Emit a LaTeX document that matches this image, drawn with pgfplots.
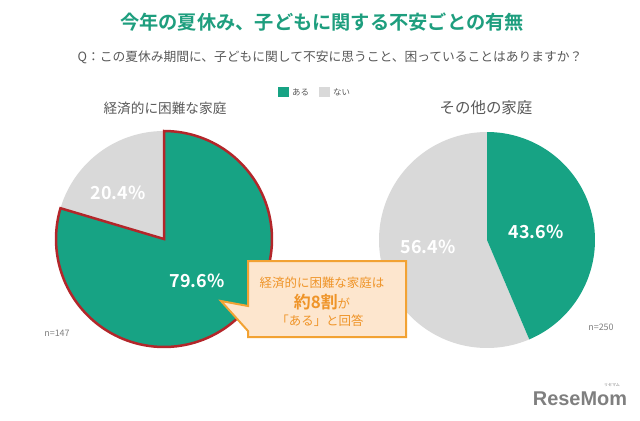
\documentclass[border=0pt]{standalone}
\usepackage{pgfplots}
\pgfplotsset{compat=1.18}
\usepackage{fontspec}
\setmainfont{Noto Sans CJK JP}[BoldFont={Noto Sans CJK JP Bold}]
\newfontfamily\logofont{Liberation Sans}[BoldFont={Liberation Sans Bold}]
\definecolor{pgreen}{HTML}{17A384}
\definecolor{tgreen}{HTML}{1E9E7E}
\definecolor{pgray}{HTML}{D9D9D9}
\definecolor{pred}{HTML}{B3262A}
\definecolor{oborder}{HTML}{F2A233}
\definecolor{ofill}{HTML}{FDE6CE}
\definecolor{otext}{HTML}{EF9428}
\definecolor{txtgray}{HTML}{595959}
\definecolor{lightgray}{HTML}{7F7F7F}
% data (percent)
\def\LYes{79.6}\def\LNo{20.4}
\def\RYes{43.6}\def\RNo{56.4}
\def\LCx{164}\def\LCy{239}\def\RCx{487}\def\RCy{240}\def\Rad{108}
\begin{document}
\begin{tikzpicture}
\begin{axis}[scale only axis, width=640bp, height=421bp,
  xmin=0, xmax=640, ymin=0, ymax=421, y dir=reverse,
  hide axis, clip=false]
% left pie
\addplot[fill=pgray, draw=none, domain=90:{90+3.6*\LNo}, samples=60, variable=\t]
  ({\LCx+\Rad*cos(\t)}, {\LCy-\Rad*sin(\t)}) -- (axis cs:\LCx,\LCy) -- cycle;
\addplot[fill=pgreen, draw=pred, line width=2.5bp, line join=miter, domain=90:{90-3.6*\LYes}, samples=120, variable=\t]
  ({\LCx+\Rad*cos(\t)}, {\LCy-\Rad*sin(\t)}) -- (axis cs:\LCx,\LCy) -- cycle;
% right pie
\addplot[fill=pgray, draw=none, domain=90:{90+3.6*\RNo}, samples=120, variable=\t]
  ({\RCx+\Rad*cos(\t)}, {\RCy-\Rad*sin(\t)}) -- (axis cs:\RCx,\RCy) -- cycle;
\addplot[fill=pgreen, draw=none, domain=90:{90-3.6*\RYes}, samples=100, variable=\t]
  ({\RCx+\Rad*cos(\t)}, {\RCy-\Rad*sin(\t)}) -- (axis cs:\RCx,\RCy) -- cycle;
% texts
\node[text=tgreen, font=\bfseries\fontsize{19.3}{21}\selectfont] at (axis cs:322,22) {今年の夏休み、子どもに関する不安ごとの有無};
\node[text=txtgray, font=\fontsize{12.8}{14}\selectfont] at (axis cs:330,57) {Q：この夏休み期間に、子どもに関して不安に思うこと、困っていることはありますか？};
% legend
\fill[pgreen] (axis cs:278,87) rectangle (axis cs:289,97);
\node[anchor=west, text=txtgray, font=\fontsize{8.5}{9}\selectfont, inner sep=0pt] at (axis cs:292,92.5) {ある};
\fill[pgray] (axis cs:319,87) rectangle (axis cs:330,97);
\node[anchor=west, text=txtgray, font=\fontsize{8.5}{9}\selectfont, inner sep=0pt] at (axis cs:333,92.5) {ない};
% group labels
\node[text=txtgray, font=\fontsize{13.7}{15}\selectfont] at (axis cs:165,108) {経済的に困難な家庭};
\node[text=txtgray, font=\fontsize{15.5}{17}\selectfont] at (axis cs:486,108) {その他の家庭};
% percentages
\node[text=white, font=\bfseries\fontsize{18}{20}\selectfont] at (axis cs:118,193) {20.4\%};
\node[text=white, font=\bfseries\fontsize{18}{20}\selectfont] at (axis cs:197,281) {79.6\%};
\node[text=white, font=\bfseries\fontsize{18}{20}\selectfont] at (axis cs:536,232) {43.6\%};
\node[text=white, font=\bfseries\fontsize{18}{20}\selectfont] at (axis cs:428,247) {56.4\%};
% n labels
\node[text=lightgray, font=\fontsize{9}{10}\selectfont] at (axis cs:57,333) {n=147};
\node[text=lightgray, font=\fontsize{9}{10}\selectfont] at (axis cs:601,327) {n=250};
% callout
\draw[draw=oborder, fill=ofill, line width=2bp, line join=miter]
  (axis cs:248,261) -- (axis cs:406,261) -- (axis cs:406,337) -- (axis cs:248,337)
  -- (axis cs:248,331) -- (axis cs:221,301) -- (axis cs:248,306) -- cycle;
\node[text=otext, font=\fontsize{12.5}{14}\selectfont] at (axis cs:322,283) {経済的に困難な家庭は};
\node[text=otext, font=\fontsize{12.5}{14}\selectfont] at (axis cs:322,302) {{\bfseries\fontsize{17}{18}\selectfont 約8割}が};
\node[text=otext, font=\fontsize{12.5}{14}\selectfont] at (axis cs:320,321) {「ある」と回答};
% logo
\node[text=lightgray, font=\logofont\bfseries\fontsize{20}{22}\selectfont] at (axis cs:580,399) {ReseMom};
\node[text=lightgray, font=\fontsize{4}{5}\selectfont] at (axis cs:612,385) {リセマム};
\end{axis}
\pgfresetboundingbox
\path (0,0) rectangle (640bp,421bp);
\end{tikzpicture}
\end{document}
